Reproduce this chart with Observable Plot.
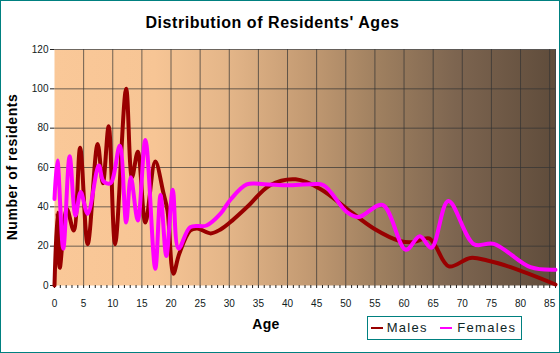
<!DOCTYPE html>
<html>
<head>
<meta charset="utf-8">
<script src="https://cdn.jsdelivr.net/npm/d3@7"></script>
<script src="https://cdn.jsdelivr.net/npm/@observablehq/plot@0.6"></script>
<style>
  html, body { margin: 0; padding: 0; background: #ffffff; }
  #chart { position: relative; width: 560px; height: 353px; overflow: hidden; background: #ffffff;
           font-family: "Liberation Sans", Arial, sans-serif; }
  #frame { position: absolute; left: 0; top: 0; width: 560px; height: 353px; box-sizing: border-box;
           border: 1px solid #008080; pointer-events: none; }
  #title { position: absolute; left: 0; width: 545px; top: 14.5px; text-align: center; font-size: 16px;
           line-height: 16px; font-weight: bold; letter-spacing: 0.55px; color: #000; }
  #plot { position: absolute; left: 0; top: 40px; }
  #ylabel { position: absolute; left: -88.3px; top: 160px; width: 200px; height: 14px; line-height: 14px;
            text-align: center; font-size: 14px; font-weight: bold; letter-spacing: 0.55px; color: #000;
            transform: rotate(-90deg); }
  #xlabel { position: absolute; left: 166px; width: 200px; top: 317px; line-height: 14px; font-size: 14px;
            font-weight: bold; text-align: center; letter-spacing: 0.3px; color: #000; }
  #legend { position: absolute; left: 367px; top: 316px; width: 155px; height: 24px; box-sizing: border-box;
            border: 1px solid #008080; }
  #legend .sw { position: absolute; top: 9.5px; width: 12px; height: 2px; }
  #legend .lt { position: absolute; top: 4px; font-size: 13px; line-height: 13px; letter-spacing: 1.3px; color: #0d2626; }
</style>
</head>
<body>
<div id="chart">
  <div id="title"></div>
  <div id="plot"></div>
  <div id="ylabel"></div>
  <div id="xlabel"></div>
  <div id="legend"></div>
  <div id="frame"></div>
</div>
<script>
// ---- data ----
const titleText = "Distribution of Residents' Ages";
const xLabel = "Age";
const yLabel = "Number of residents";
const seriesNames = ["Males", "Females"];
const seriesColors = ["#990000", "#ff00ff"];

const maleAges = [0, 0.5, 0.9, 2.1, 3.3, 4.4, 5.7, 7.4, 8.3, 9.3, 10.4, 12.3, 13.3, 14.3, 15.6, 17.3, 18.7, 19.4,
  20.4, 21.4, 23.3, 24.5, 26.8, 28.5, 30.5, 33.1, 37, 41.4, 45.7, 50.2, 54.8, 59.4, 61.4, 64.3, 65.4, 67.7,
  71.4, 74.3, 78.3, 86];
const maleCounts = [0, 37, 9, 39, 28, 70, 21, 72, 52, 81, 21, 100, 55, 68, 32, 63, 47, 38,
  6, 16, 28, 29, 26.5, 28.5, 33, 40, 51, 54, 49, 39, 29, 22.5, 22, 24, 20, 9.7,
  14, 12.7, 9.3, 0.5];

const femaleAges = [0, 0.5, 1.5, 2.6, 3.6, 4.5, 5.7, 7.6, 8.4, 9.6, 11.2, 12.3, 13.1, 14.3, 15.6, 17.3, 18.2,
  19.2, 20.3, 21.3, 23.3, 26.1, 28.5, 30.2, 33, 36, 40, 44, 46.2, 50.2, 52.2, 56.3, 60.3, 62.7, 64.7, 67.6,
  72, 75.4, 81.7, 86];
const femaleCounts = [44, 63.5, 18.7, 65.7, 35.6, 47.5, 36.5, 61, 53, 52, 71, 32, 55, 33, 74, 8.5, 46,
  15, 48.7, 18.7, 29.7, 30.5, 36.5, 43.6, 51.4, 51.5, 51, 51.5, 51, 37.3, 34.8, 41, 18.2, 25, 19.2, 43,
  21, 21.2, 9.3, 8];

const xDomain = [0, 86];
const yDomain = [0, 120];
const xLabelTicks = d3.range(0, 86, 5);
const xMinorTicks = d3.range(0, 87, 1);
const yTicks = d3.range(0, 121, 20);

// ---- tables ----
const males = maleAges.map((a, i) => ({age: a, count: maleCounts[i]}));
const females = femaleAges.map((a, i) => ({age: a, count: femaleCounts[i]}));

// ---- text ----
document.getElementById("title").textContent = titleText;
document.getElementById("ylabel").textContent = yLabel;
document.getElementById("xlabel").textContent = xLabel;

const legend = document.getElementById("legend");
const legendPos = [{sw: 2.7, tx: 18.7}, {sw: 72, tx: 89.3}];
seriesNames.forEach((name, i) => {
  const sw = document.createElement("div");
  sw.className = "sw";
  sw.style.left = legendPos[i].sw + "px";
  sw.style.background = seriesColors[i];
  legend.appendChild(sw);
  const t = document.createElement("div");
  t.className = "lt";
  t.style.left = legendPos[i].tx + "px";
  t.textContent = name;
  legend.appendChild(t);
});

// ---- plot ----
const gridColor = "#333333";
const svg = Plot.plot({
  width: 560,
  height: 313,
  marginTop: 9,
  marginBottom: 68,
  marginLeft: 54,
  marginRight: 5,
  x: {domain: xDomain},
  y: {domain: yDomain},
  style: {fontFamily: "'Liberation Sans', Arial, sans-serif", fontSize: "10px", color: "#102020", background: "transparent"},
  marks: [
    Plot.frame({fill: "url(#bggrad)", stroke: null}),
    Plot.gridX(xLabelTicks.filter(d => d > 0), {stroke: gridColor, strokeOpacity: 0.7, strokeWidth: 1}),
    Plot.gridX([xDomain[1]], {stroke: gridColor, strokeOpacity: 0.85, strokeWidth: 1}),
    Plot.gridY(yTicks.filter(d => d > 0), {stroke: gridColor, strokeOpacity: 0.7, strokeWidth: 1}),
    Plot.axisX(xMinorTicks, {tickSize: 3, tickFormat: () => "", label: null, stroke: "#222"}),
    Plot.axisX(xLabelTicks, {tickSize: 0, tickPadding: 14, label: null}),
    Plot.axisY(yTicks, {tickSize: 4, tickPadding: 2, label: null, stroke: "#222"}),
    Plot.line(males, {x: "age", y: "count", curve: "catmull-rom", stroke: seriesColors[0], strokeWidth: 4,
      strokeLinejoin: "round", strokeLinecap: "round"}),
    Plot.line(females, {x: "age", y: "count", curve: "catmull-rom", stroke: seriesColors[1], strokeWidth: 4,
      strokeLinejoin: "round", strokeLinecap: "round"})
  ]
});

// gradient definition for the plot background
const stops = [
  [0, "#fac898"], [0.2, "#f7c595"], [0.35, "#e3b588"], [0.5, "#c49b73"],
  [0.65, "#9e7f5f"], [0.8, "#7d6550"], [1, "#5f4c3b"]
];
const defs = d3.select(svg).insert("defs", ":first-child");
const grad = defs.append("linearGradient").attr("id", "bggrad").attr("x1", 0).attr("x2", 1).attr("y1", 0).attr("y2", 0);
stops.forEach(([o, c]) => grad.append("stop").attr("offset", o).attr("stop-color", c));

document.getElementById("plot").appendChild(svg);
</script>
</body>
</html>
